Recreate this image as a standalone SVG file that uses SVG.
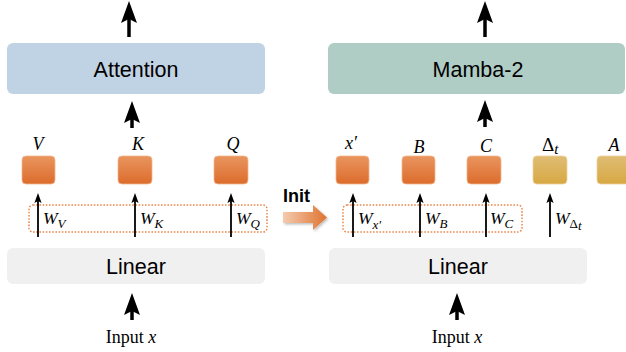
<svg xmlns="http://www.w3.org/2000/svg" width="626" height="352" viewBox="0 0 626 352">
  <defs>
    <linearGradient id="gOrange" x1="0" y1="0" x2="0" y2="1">
      <stop offset="0" stop-color="#E9955F"/>
      <stop offset="1" stop-color="#DC6C2C"/>
    </linearGradient>
    <linearGradient id="gGold" x1="0" y1="0" x2="0" y2="1">
      <stop offset="0" stop-color="#DFBD74"/>
      <stop offset="1" stop-color="#D7A843"/>
    </linearGradient>
    <linearGradient id="gInit" x1="0" y1="0" x2="1" y2="0">
      <stop offset="0" stop-color="#F4CBAE"/>
      <stop offset="1" stop-color="#DF7330"/>
    </linearGradient>
    <filter id="soft" x="-20%" y="-30%" width="150%" height="170%">
      <feDropShadow dx="1.5" dy="1.5" stdDeviation="1.2" flood-color="#000" flood-opacity="0.25"/>
    </filter>
    <marker id="bigHead" markerUnits="userSpaceOnUse" viewBox="0 -9 22 18" markerWidth="22" markerHeight="18" refX="10" refY="0" orient="auto">
      <path d="M0,-8 L22,0 L0,8 L4,0 Z" fill="#000"/>
    </marker>
    <marker id="smallHead" markerUnits="userSpaceOnUse" viewBox="0 -4 10 8" markerWidth="10" markerHeight="8" refX="5" refY="0" orient="auto">
      <path d="M0,-3.6 L10,0 L0,3.6 L2,0 Z" fill="#000"/>
    </marker>
  </defs>
  <style>
    .sans { font-family: "Liberation Sans", Arial, sans-serif; fill: #000; }
    .block { font-size: 21.5px; text-anchor: middle; }
    .math { font-family: "Liberation Serif", "DejaVu Serif", serif; font-style: italic; fill: #000; }
    .sym { font-size: 18px; text-anchor: middle; }
    .w { font-size: 17.5px; }
    .sub { font-size: 13px; }
    .rm { font-family: "Liberation Serif", "DejaVu Serif", serif; font-size: 18px; fill: #000; }
    .orange { fill: url(#gOrange); stroke: #F2B58C; stroke-width: 0.8; }
    .gold { fill: url(#gGold); stroke: #EBD29C; stroke-width: 0.8; }
    .group { fill: none; stroke: #E8894C; stroke-width: 1.5; stroke-dasharray: 1.6 1.6; }
    .big { stroke: #000; stroke-width: 3.5; fill: none; marker-end: url(#bigHead); }
    .thin { stroke: #000; stroke-width: 1.8; fill: none; marker-end: url(#smallHead); }
  </style>

  <!-- attention side -->
  <g id="attention">
    <rect x="7" y="43" width="258" height="51" rx="6" fill="#C0D3E4"/>
    <text class="sans block" x="136" y="77">Attention</text>
  </g>
  <g id="linear-attn">
    <rect x="7" y="248" width="258" height="36" rx="6" fill="#F0F0F0"/>
    <text class="sans block" x="136" y="274">Linear</text>
  </g>
  <g id="v">
    <rect class="orange" x="22" y="156" width="33" height="28" rx="4"/>
    <text class="math sym" x="38" y="150">V</text>
  </g>
  <g id="k">
    <rect class="orange" x="118" y="156" width="34" height="28" rx="4"/>
    <text class="math sym" x="138" y="150">K</text>
  </g>
  <g id="q">
    <rect class="orange" x="214" y="156" width="34" height="28" rx="4"/>
    <text class="math sym" x="233" y="150">Q</text>
  </g>
  <g id="attn-weights">
    <rect class="group" x="29" y="205" width="238" height="27" rx="4"/>
    <text class="math w" x="43" y="224">W<tspan class="sub" dy="4">V</tspan></text>
    <text class="math w" x="140" y="224">W<tspan class="sub" dy="4">K</tspan></text>
    <text class="math w" x="236" y="224">W<tspan class="sub" dy="4">Q</tspan></text>
  </g>
  <g id="input-attn">
    <text class="rm" x="131" y="343" text-anchor="middle">Input <tspan font-style="italic">x</tspan></text>
  </g>

  <!-- mamba side -->
  <g id="mamba">
    <rect x="328" y="43" width="297" height="51" rx="6" fill="#AFCCC5"/>
    <text class="sans block" x="478" y="77">Mamba-2</text>
  </g>
  <g id="linear-mamba">
    <rect x="329" y="248" width="258" height="36" rx="6" fill="#F0F0F0"/>
    <text class="sans block" x="458" y="274">Linear</text>
  </g>
  <g id="xp">
    <rect class="orange" x="336" y="156" width="33" height="28" rx="4"/>
    <text class="math sym" x="351" y="149">x′</text>
  </g>
  <g id="b">
    <rect class="orange" x="402" y="156" width="33" height="28" rx="4"/>
    <text class="math sym" x="419" y="153">B</text>
  </g>
  <g id="c">
    <rect class="orange" x="467" y="156" width="34" height="28" rx="4"/>
    <text class="math sym" x="486" y="152">C</text>
  </g>
  <g id="dt">
    <rect class="gold" x="533" y="156" width="34" height="28" rx="4"/>
    <text class="math" font-size="19" x="542" y="151"><tspan font-style="normal">Δ</tspan><tspan font-size="15" dy="3">t</tspan></text>
  </g>
  <g id="a">
    <rect class="gold" x="597" y="156" width="34" height="28" rx="4"/>
    <text class="math sym" x="614" y="151">A</text>
  </g>
  <g id="mamba-weights">
    <rect class="group" x="343" y="205" width="179" height="27" rx="4"/>
    <text class="math w" x="358" y="224">W<tspan class="sub" font-size="14" dy="5">x′</tspan></text>
    <text class="math w" x="425" y="224">W<tspan class="sub" dy="4">B</tspan></text>
    <text class="math w" x="490" y="224">W<tspan class="sub" dy="4">C</tspan></text>
    <text class="math w" x="555" y="224">W<tspan class="sub" font-style="normal" dy="4">Δ</tspan><tspan class="sub" font-size="10.5" dy="2">t</tspan></text>
  </g>
  <g id="input-mamba">
    <text class="rm" x="457" y="343" text-anchor="middle">Input <tspan font-style="italic">x</tspan></text>
  </g>

  <!-- weight transfer -->
  <g id="init">
    <text class="sans" x="283" y="202" font-size="18" font-weight="bold">Init</text>
    <path d="M283,212 L313,212 L313,205 L327,217.5 L313,230 L313,223 L283,223 Z" fill="url(#gInit)" filter="url(#soft)"/>
  </g>

  <!-- connectors -->
  <g id="connectors">
    <line class="big" x1="129" y1="37" x2="129" y2="13"/>
    <line class="big" x1="132" y1="128" x2="132" y2="113"/>
    <line class="big" x1="132" y1="320" x2="132" y2="305"/>
    <line class="big" x1="485" y1="37" x2="485" y2="13"/>
    <line class="big" x1="485" y1="127" x2="485" y2="112"/>
    <line class="big" x1="457" y1="320" x2="457" y2="305"/>

    <line class="thin" x1="38" y1="237" x2="38" y2="198"/>
    <line class="thin" x1="135" y1="237" x2="135" y2="198"/>
    <line class="thin" x1="231" y1="237" x2="231" y2="198"/>
    <line class="thin" x1="353" y1="237" x2="353" y2="198"/>
    <line class="thin" x1="420" y1="237" x2="420" y2="198"/>
    <line class="thin" x1="486" y1="237" x2="486" y2="198"/>
    <line class="thin" x1="550" y1="237" x2="550" y2="198"/>
  </g>
</svg>
